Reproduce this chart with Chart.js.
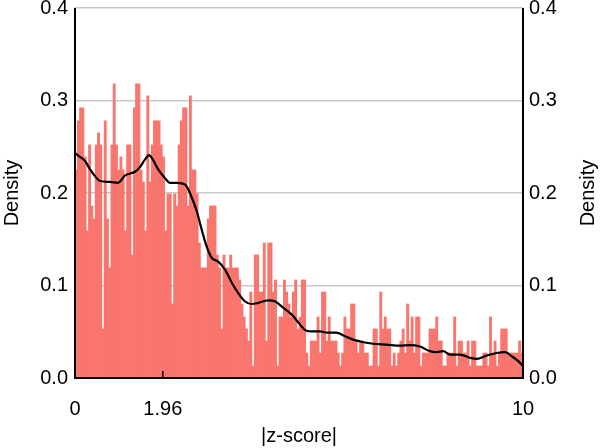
<!DOCTYPE html>
<html>
<head>
<meta charset="utf-8">
<script src="https://cdn.jsdelivr.net/npm/chart.js@4.4.1/dist/chart.umd.min.js"></script>
<style>
  html, body { margin: 0; padding: 0; background: #fff; }
</style>
</head>
<body>
<canvas id="histChart" width="600" height="448"></canvas>
<script>
// histogram of |z-score|, 200 bins of width 0.05 between 0 and 10
const binWidth = 0.05;
const densities = [
  0.225, 0.278, 0.292, 0.292, 0.239, 0.159, 0.252, 0.186, 0.172, 0.252,
  0.265, 0.252, 0.053, 0.278, 0.172, 0.119, 0.252, 0.318, 0.252, 0.225,
  0.239, 0.225, 0.159, 0.252, 0.252, 0.133, 0.292, 0.318, 0.318, 0.225,
  0.212, 0.159, 0.305, 0.212, 0.252, 0.278, 0.278, 0.278, 0.252, 0.239,
  0.159, 0.199, 0.199, 0.080, 0.199, 0.186, 0.252, 0.278, 0.292, 0.292,
  0.186, 0.305, 0.225, 0.225, 0.199, 0.146, 0.119, 0.119, 0.119, 0.172,
  0.186, 0.186, 0.186, 0.133, 0.119, 0.053, 0.133, 0.119, 0.119, 0.133,
  0.119, 0.119, 0.119, 0.106, 0.080, 0.066, 0.053, 0.040, 0.093, 0.013,
  0.133, 0.133, 0.093, 0.093, 0.146, 0.040, 0.146, 0.146, 0.093, 0.106,
  0.013, 0.066, 0.066, 0.106, 0.093, 0.080, 0.066, 0.093, 0.106, 0.053,
  0.066, 0.106, 0.106, 0.027, 0.013, 0.040, 0.040, 0.040, 0.066, 0.027,
  0.093, 0.093, 0.040, 0.066, 0.040, 0.040, 0.040, 0.027, 0.013, 0.027,
  0.066, 0.053, 0.053, 0.080, 0.080, 0.040, 0.027, 0.040, 0.040, 0.027,
  0.027, 0.013, 0.013, 0.053, 0.053, 0.013, 0.093, 0.053, 0.066, 0.053,
  0.053, 0.013, 0.027, 0.013, 0.027, 0.040, 0.053, 0.027, 0.080, 0.040,
  0.066, 0.027, 0.066, 0.066, 0.013, 0.027, 0.027, 0.027, 0.053, 0.053,
  0.053, 0.066, 0.040, 0.040, 0.013, 0.013, 0.027, 0.027, 0.027, 0.066,
  0.013, 0.040, 0.040, 0.027, 0.027, 0.040, 0.013, 0.040, 0.040, 0.013,
  0.013, 0.013, 0.027, 0.027, 0.013, 0.066, 0.027, 0.040, 0.013, 0.027,
  0.053, 0.053, 0.053, 0.027, 0.027, 0.027, 0.027, 0.027, 0.040, 0.027
];
const binCenters = densities.map((d, i) => (i + 0.5) * binWidth);

// smoothed density curve
const kdeZ = [
  0.00, 0.11, 0.22, 0.33, 0.45, 0.56, 0.78, 0.96, 1.12, 1.34,
  1.45, 1.56, 1.65, 1.74, 1.85, 2.01, 2.12, 2.28, 2.46, 2.60,
  2.72, 2.83, 2.94, 3.05, 3.19, 3.35, 3.50, 3.64, 3.79, 3.94,
  4.08, 4.31, 4.46, 4.61, 4.84, 5.02, 5.13, 5.25, 5.47, 5.62,
  5.84, 5.99, 6.21, 6.44, 6.65, 6.96, 7.25, 7.48, 7.70, 7.92,
  8.07, 8.22, 8.37, 8.59, 8.82, 8.97, 9.19, 9.41, 9.60, 9.75,
  9.90, 10.00
];
const kdeDensity = [
  0.243, 0.239, 0.235, 0.226, 0.218, 0.213, 0.212, 0.211, 0.219, 0.223,
  0.228, 0.236, 0.241, 0.236, 0.226, 0.216, 0.211, 0.211, 0.209, 0.196,
  0.180, 0.160, 0.142, 0.130, 0.126, 0.117, 0.103, 0.092, 0.083, 0.080,
  0.081, 0.084, 0.083, 0.0775, 0.0685, 0.058, 0.052, 0.0505, 0.0505, 0.049,
  0.049, 0.046, 0.0415, 0.0386, 0.037, 0.036, 0.035, 0.0355, 0.034, 0.029,
  0.028, 0.029, 0.0253, 0.0253, 0.0218, 0.0207, 0.0243, 0.027, 0.028, 0.0235,
  0.018, 0.013
];

const xTickValues = [0, 1.96, 10];
const yTickValues = [0, 0.1, 0.2, 0.3, 0.4];
const yTitle = 'Density';

const font = { family: "'Liberation Sans', Arial, sans-serif", size: 20 };

// frame lines, inward x ticks, and the right axis title (reads bottom-to-top like the left one)
const frame = {
  id: 'frame',
  afterDatasetsDraw(chart) {
    const { ctx, scales: { x, y } } = chart;
    ctx.save();
    ctx.strokeStyle = '#000';
    ctx.lineWidth = 2;
    ctx.beginPath();
    ctx.moveTo(x.left, y.top);
    ctx.lineTo(x.left, y.bottom);
    ctx.lineTo(x.right, y.bottom);
    ctx.lineTo(x.right, y.top);
    ctx.stroke();
    ctx.lineWidth = 1.5;
    xTickValues.forEach(v => {
      const px = x.getPixelForValue(v);
      ctx.beginPath();
      ctx.moveTo(px, y.bottom);
      ctx.lineTo(px, y.bottom - 7);
      ctx.stroke();
    });
    ctx.restore();
  },
  afterDraw(chart) {
    const { ctx, scales: { y } } = chart;
    ctx.save();
    ctx.translate(chart.width - 12, (y.top + y.bottom) / 2);
    ctx.rotate(-Math.PI / 2);
    ctx.font = `${font.size}px ${font.family}`;
    ctx.fillStyle = '#000';
    ctx.textAlign = 'center';
    ctx.textBaseline = 'middle';
    ctx.fillText(yTitle, 0, 0);
    ctx.restore();
  }
};

const yTicks = s => { s.ticks = yTickValues.map(v => ({ value: v })); };
const noPad = s => { s.paddingTop = 0; s.paddingBottom = 0; s.paddingLeft = 0; s.paddingRight = 0; };

new Chart(document.getElementById('histChart'), {
  type: 'bar',
  data: {
    datasets: [
      {
        type: 'line',
        data: kdeZ.map((z, i) => ({ x: z, y: kdeDensity[i] })),
        borderColor: '#000',
        borderWidth: 2.2,
        pointRadius: 0,
        cubicInterpolationMode: 'monotone',
        order: 1
      },
      {
        type: 'bar',
        data: binCenters.map((z, i) => ({ x: z, y: densities[i] })),
        backgroundColor: '#F8766D',
        borderWidth: 0,
        barPercentage: 1,
        categoryPercentage: 1,
        order: 2
      }
    ]
  },
  options: {
    responsive: false,
    animation: false,
    layout: { padding: { top: 8, left: 0, right: 0, bottom: 0 } },
    plugins: { legend: { display: false }, tooltip: { enabled: false } },
    scales: {
      x: {
        type: 'linear',
        min: 0,
        max: 10,
        offset: false,
        afterBuildTicks: s => { s.ticks = xTickValues.map(v => ({ value: v })); },
        afterFit: s => { s.height = 70; noPad(s); },
        grid: { display: false },
        border: { display: false },
        ticks: {
          font, color: '#000', padding: 11, maxRotation: 0, autoSkip: false,
          callback: v => String(v)
        },
        title: { display: true, text: '|z-score|', font, color: '#000', padding: { top: 0, bottom: 0 } }
      },
      y: {
        position: 'left',
        min: 0,
        max: 0.4,
        afterBuildTicks: yTicks,
        afterFit: s => { s.width = 75; noPad(s); },
        grid: { color: '#c8c8c8', lineWidth: 1.5, drawTicks: false },
        border: { display: false },
        ticks: { font, color: '#000', padding: 7, callback: v => v.toFixed(1) },
        title: { display: true, text: yTitle, font, color: '#000', padding: 0 }
      },
      y2: {
        position: 'right',
        min: 0,
        max: 0.4,
        afterBuildTicks: yTicks,
        afterFit: s => { s.width = 77; noPad(s); },
        grid: { drawOnChartArea: false, drawTicks: false },
        border: { display: false },
        ticks: { font, color: '#000', padding: 6, callback: v => v.toFixed(1) },
        title: { display: false }
      }
    }
  },
  plugins: [frame]
});
</script>
</body>
</html>
